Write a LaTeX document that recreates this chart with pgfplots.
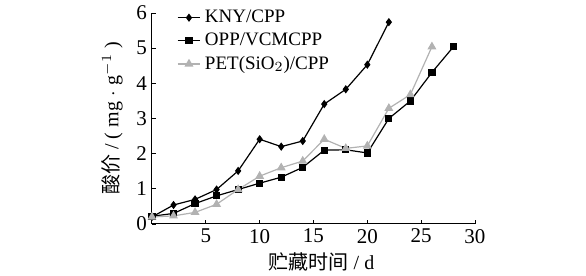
\documentclass[border=0pt]{standalone}
\usepackage{pgfplots}
\pgfplotsset{compat=1.18}
\usepackage{fontspec}
\setmainfont{Liberation Serif}
\newfontfamily\cjk{Noto Sans CJK SC}
\definecolor{petgray}{RGB}{178,178,178}
\begin{document}
\begin{tikzpicture}
\useasboundingbox (0,0) rectangle (293pt,138pt);
\begin{axis}[
  at={(76pt,26pt)}, anchor=south west,
  scale only axis, width=161.5pt, height=105.5pt,
  xmin=0, xmax=30, ymin=0, ymax=6,
  axis x line*=bottom, axis y line*=left,
  axis line style={-, line width=0.5pt},
  xtick={5,10,15,20,25,30}, ytick={0,1,2,3,4,5,6},
  tick align=inside, major tick length=2pt,
  tick style={black, line width=0.4pt},
  /pgf/number format/assume math mode=true,
  ticklabel style={font=\fontsize{10.5}{12}\selectfont},
  xticklabel style={yshift=1pt},
  yticklabel style={xshift=1pt},
  xlabel={{\cjk 贮藏时间} / d},
  ylabel={{\cjk 酸价} / ( mg\;$\cdot$\;g$^{-1}$ )},
  label style={font=\fontsize{10}{11}\selectfont},
  xlabel style={yshift=2pt, xshift=4pt},
  legend style={draw=none, fill=none, at={(0.07,1.045)}, anchor=north west,
    font=\fontsize{9.5}{11}\selectfont, row sep=-0.3pt, inner sep=1pt},
  legend cell align=left,
  legend image code/.code={\draw[mark repeat=2,mark phase=2] plot coordinates {(0cm,0cm)(0.2cm,0cm)(0.4cm,0cm)};},
]
\addplot[black, line width=0.6pt, mark=diamond*, mark size=1.6pt] coordinates {
(0,0.2)(2,0.54)(4,0.70)(6,0.98)(8,1.51)(10,2.41)(12,2.2)(14,2.36)(16,3.41)(18,3.83)(20,4.53)(22,5.74)};
\addlegendentry{KNY/CPP}
\addplot[black, line width=0.6pt, mark=square*, mark size=1.5pt] coordinates {
(0,0.22)(2,0.30)(4,0.58)(6,0.80)(8,0.98)(10,1.16)(12,1.33)(14,1.61)(16,2.10)(18,2.11)(20,2.02)(22,3.0)(24,3.50)(26,4.31)(28,5.04)};
\addlegendentry{OPP/VCMCPP}
\addplot[petgray, line width=0.6pt, mark=triangle*, mark size=2pt] coordinates {
(0,0.2)(2,0.23)(4,0.33)(6,0.56)(8,0.98)(10,1.36)(12,1.6)(14,1.79)(16,2.41)(18,2.15)(20,2.22)(22,3.29)(24,3.68)(26,5.04)};
\addlegendentry{PET(SiO$_2$)/CPP}
\end{axis}
\end{tikzpicture}
\end{document}
